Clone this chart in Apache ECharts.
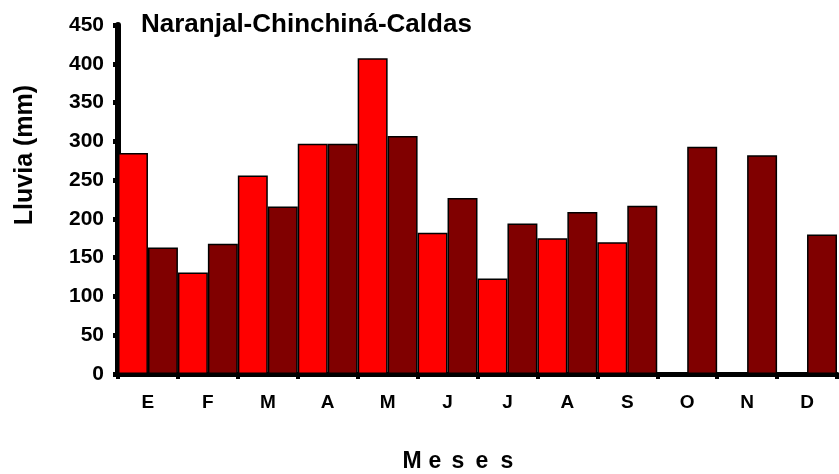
<!DOCTYPE html>
<html>
<head>
<meta charset="utf-8">
<script src="https://cdn.jsdelivr.net/npm/echarts@6/dist/echarts.min.js"></script>
<style>
  html, body { margin: 0; padding: 0; background: #fff; }
  #chart { width: 839px; height: 474px; }
</style>
</head>
<body>
<div id="chart"></div>
<script>
const meses = ['E', 'F', 'M', 'A', 'M', 'J', 'J', 'A', 'S', 'O', 'N', 'D']
const serieRoja = [285, 131, 256, 297, 407, 182, 123, 175, 170, null, null, null]
const serieOscura = [163, 168, 216, 297, 307, 227, 194, 209, 217, 293, 282, 180]
const ticksY = [0, 50, 100, 150, 200, 250, 300, 350, 400, 450]
const letrasEje = ['M', 'e', 's', 'e', 's']

const chart = echarts.init(document.getElementById('chart'))

const fuente = 'Liberation Sans, Arial, sans-serif'

// "Meses" espaciado letra por letra
const xLetras = [412, 435, 458, 482, 507]
const tituloX = letrasEje.map((l, i) => ({
  type: 'text',
  x: xLetras[i], y: 462,
  style: { text: l, fill: '#000', font: 'bold 23px ' + fuente, align: 'center', verticalAlign: 'middle' }
}))

const option = {
  animation: false,
  backgroundColor: '#fff',
  title: {
    text: 'Naranjal-Chinchiná-Caldas',
    left: 136,
    top: 7,
    textStyle: { fontFamily: fuente, fontSize: 26, fontWeight: 'bold', color: '#000' }
  },
  grid: { left: 118, right: 2, top: 25, bottom: 100, containLabel: false },
  xAxis: {
    type: 'category',
    data: meses,
    axisLine: { lineStyle: { color: '#000', width: 5 } },
    axisTick: { show: true, length: 5, lineStyle: { color: '#000', width: 4 } },
    axisLabel: { fontFamily: fuente, fontSize: 19, fontWeight: 'bold', color: '#000', margin: 19 }
  },
  yAxis: {
    type: 'value',
    min: ticksY[0],
    max: ticksY[ticksY.length - 1],
    interval: 50,
    splitLine: { show: false },
    axisLine: { show: true, lineStyle: { color: '#000', width: 6 } },
    axisTick: { show: true, length: 5, lineStyle: { color: '#000', width: 5 } },
    axisLabel: { fontFamily: fuente, fontSize: 21, fontWeight: 'bold', color: '#000', margin: 14 }
  },
  graphic: [
    {
      type: 'text',
      x: 25, y: 155,
      rotation: Math.PI / 2,
      style: {
        text: 'Lluvia (mm)', fill: '#000',
        font: 'bold 25px ' + fuente,
        align: 'center', verticalAlign: 'middle'
      }
    }
  ].concat(tituloX),
  series: [
    {
      name: 'serie1',
      type: 'bar',
      data: serieRoja,
      barGap: '0%',
      barCategoryGap: '0%',
      itemStyle: { color: '#ff0000', borderColor: '#000', borderWidth: 1.5 }
    },
    {
      name: 'serie2',
      type: 'bar',
      data: serieOscura,
      barGap: '0%',
      barCategoryGap: '0%',
      itemStyle: { color: '#800000', borderColor: '#000', borderWidth: 1.5 }
    }
  ]
}

chart.setOption(option)
</script>
</body>
</html>
